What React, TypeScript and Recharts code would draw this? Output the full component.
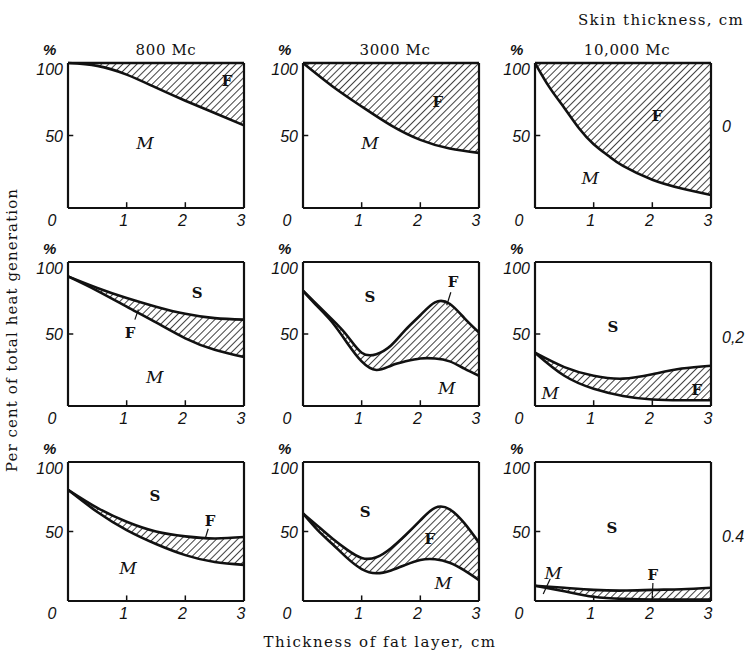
import React from "react";
import { ComposedChart, Area, Line, XAxis, YAxis, ReferenceLine, ReferenceDot } from "recharts";

const frequencies = ["800 Mc", "3000 Mc", "10,000 Mc"];
const skinThickness = ["0", "0,2", "0.4"];
const xTicks = [0, 1, 2, 3];
const yTicks = [50, 100];

const xHalf = [0, 0.5, 1, 1.5, 2, 2.5, 3];
const xQuarter = [0, 0.25, 0.5, 0.75, 1, 1.25, 1.5, 1.75, 2, 2.25, 2.5, 2.75, 3];
const xSteep = [0, 0.25, 0.5, 0.75, 1, 1.25, 1.5, 2, 2.5, 3];

// skin 0 cm -- fat reaches the 100 % line
const muscle800s0 = [100, 98, 92, 83, 74, 65.5, 57];
const fat800s0 = [100, 100, 100, 100, 100, 100, 100];
const muscle3000s0 = [100, 84, 70, 57, 47, 41, 38];
const fat3000s0 = [100, 100, 100, 100, 100, 100, 100];
const muscle10000s0 = [100, 83, 69, 55, 44, 36, 29, 19.5, 13.5, 9];
const fat10000s0 = [100, 100, 100, 100, 100, 100, 100, 100, 100, 100];

// skin 0.2 cm
const muscle800s2 = [90, 80, 69, 58, 47, 39, 34];
const fat800s2 = [90, 82, 75, 69, 64, 61, 60];
const muscle3000s2 = [80, 69, 58, 44, 31, 25, 28, 31, 33, 33, 31, 26, 21];
const fat3000s2 = [80, 70, 60, 49, 37, 36, 42, 53, 63, 72, 71, 61, 51];
const muscle10000s2 = [37, 21, 12, 7, 4.5, 4, 4];
const fat10000s2 = [37, 27, 21, 19, 22, 26, 28];

// skin 0.4 cm
const muscle800s4 = [80, 64, 51, 41, 33, 28, 26];
const fat800s4 = [80, 67, 57, 50, 46.5, 45, 46];
const muscle3000s4 = [63, 51, 41, 31, 23, 20, 22, 26, 29.5, 30, 27.5, 22, 15];
const fat3000s4 = [63, 54, 45, 37, 31, 31.5, 38, 47.5, 58, 67, 66, 56, 42];
const muscle10000s4 = [11, 7, 3, 1.5, 1, 1, 1];
const fat10000s4 = [11, 9.5, 8, 7.5, 8, 8.5, 9.5];

type Note = { text: string; x: number; y: number; italic?: boolean };
type Leader = [number, number, number, number];

const panels = [
  { x: xHalf, muscle: muscle800s0, fat: fat800s0,
    notes: [{ text: "F", x: 2.71, y: 88 }, { text: "M", x: 1.31, y: 45, italic: true }] as Note[], leaders: [] as Leader[] },
  { x: xHalf, muscle: muscle3000s0, fat: fat3000s0,
    notes: [{ text: "F", x: 2.3, y: 73 }, { text: "M", x: 1.14, y: 45, italic: true }] as Note[], leaders: [] as Leader[] },
  { x: xSteep, muscle: muscle10000s0, fat: fat10000s0,
    notes: [{ text: "F", x: 2.08, y: 64 }, { text: "M", x: 0.94, y: 21, italic: true }] as Note[], leaders: [] as Leader[] },
  { x: xHalf, muscle: muscle800s2, fat: fat800s2,
    notes: [{ text: "S", x: 2.2, y: 79 }, { text: "F", x: 1.06, y: 51 }, { text: "M", x: 1.48, y: 20, italic: true }] as Note[],
    leaders: [[1.14, 60, 1.2, 67]] as Leader[] },
  { x: xQuarter, muscle: muscle3000s2, fat: fat3000s2,
    notes: [{ text: "S", x: 1.14, y: 76 }, { text: "F", x: 2.56, y: 86 }, { text: "M", x: 2.45, y: 12.5, italic: true }] as Note[],
    leaders: [[2.52, 79, 2.45, 70]] as Leader[] },
  { x: xHalf, muscle: muscle10000s2, fat: fat10000s2,
    notes: [{ text: "S", x: 1.33, y: 55 }, { text: "F", x: 2.76, y: 11 }, { text: "M", x: 0.26, y: 9, italic: true }] as Note[],
    leaders: [] as Leader[] },
  { x: xHalf, muscle: muscle800s4, fat: fat800s4,
    notes: [{ text: "S", x: 1.48, y: 76 }, { text: "F", x: 2.42, y: 58 }, { text: "M", x: 1.02, y: 24, italic: true }] as Note[],
    leaders: [[2.39, 52, 2.34, 45]] as Leader[] },
  { x: xQuarter, muscle: muscle3000s4, fat: fat3000s4,
    notes: [{ text: "S", x: 1.06, y: 64 }, { text: "F", x: 2.16, y: 45 }, { text: "M", x: 2.39, y: 13, italic: true }] as Note[],
    leaders: [] as Leader[] },
  { x: xHalf, muscle: muscle10000s4, fat: fat10000s4,
    notes: [{ text: "S", x: 1.31, y: 52.5 }, { text: "F", x: 2.01, y: 19 }, { text: "M", x: 0.31, y: 20, italic: true }] as Note[],
    leaders: [[0.26, 16, 0.14, 5], [2.01, 13, 2.0, 4]] as Leader[] },
];

const colLeft = [68, 303, 535];
const rowTop = [63, 262, 462];
const rowHeight = [145, 144, 139];
const skinLabelY = [127, 338, 537];
const plotWidth = 176;
const axisW = 40;
const topPad = 25;
const xAxisH = 28;

const numFont = "'Liberation Sans', 'DejaVu Sans', sans-serif";
const serif = "'DejaVu Serif', 'Liberation Serif', serif";

const XTick = (props: any) => {
  const { x, y, payload } = props;
  const shift = payload.value === 0 ? -16 : -3;
  return (
    <text x={x + shift} y={y + 18} textAnchor="middle" fontSize={16} fontStyle="italic" fontFamily={numFont} fill="#111">
      {payload.value}
    </text>
  );
};

const YTick = (props: any) => {
  const { x, y, payload } = props;
  const dy = payload.value === 100 ? 12 : 6;
  return (
    <text x={x - 5} y={y + dy} textAnchor="end" fontSize={16} fontStyle="italic" fontFamily={numFont} fill="#111">
      {payload.value}
    </text>
  );
};

function Panel({ idx }: { idx: number }) {
  const p = panels[idx];
  const row = Math.floor(idx / 3);
  const col = idx % 3;
  const h = rowHeight[row];
  const data = p.x.map((x, i) => ({ x, muscle: p.muscle[i], fat: p.fat[i], band: [p.muscle[i], p.fat[i]] }));
  const pid = `hatch-${idx}`;
  return (
    <div style={{ position: "absolute", left: colLeft[col] - axisW, top: rowTop[row] - topPad }}>
      <ComposedChart width={axisW + plotWidth + 8} height={topPad + h + xAxisH} data={data}
        margin={{ top: topPad, right: 8, left: 0, bottom: 0 }}>
        <defs>
          <pattern id={pid} patternUnits="userSpaceOnUse" width={5} height={5} patternTransform="rotate(45)">
            <line x1={0} y1={0} x2={0} y2={5} stroke="#111" strokeWidth={1.6} />
          </pattern>
        </defs>
        <XAxis dataKey="x" type="number" domain={[0, 3]} ticks={xTicks} height={xAxisH}
          tickLine={false} tickSize={0} tickMargin={0} tick={<XTick />}
          axisLine={{ stroke: "#111", strokeWidth: 2.2 }} />
        <YAxis type="number" domain={[0, 100]} ticks={yTicks} width={axisW}
          tickLine={false} tickSize={0} tickMargin={0} tick={<YTick />}
          axisLine={{ stroke: "#111", strokeWidth: 2.2 }} />
        <Area dataKey="band" type="natural" stroke="none" fill={`url(#${pid})`} fillOpacity={1} isAnimationActive={false} />
        <Line dataKey="muscle" type="natural" stroke="#111" strokeWidth={2.6} dot={false} isAnimationActive={false} />
        <Line dataKey="fat" type="natural" stroke="#111" strokeWidth={2.6} dot={false} isAnimationActive={false} />
        <ReferenceLine y={100} stroke="#111" strokeWidth={2.2} />
        <ReferenceLine x={3} stroke="#111" strokeWidth={2.2} />
        <ReferenceLine segment={[{ x: 1, y: 0 }, { x: 1, y: 4 }]} stroke="#111" strokeWidth={1.5} />
        <ReferenceLine segment={[{ x: 2, y: 0 }, { x: 2, y: 4 }]} stroke="#111" strokeWidth={1.5} />
        <ReferenceLine segment={[{ x: 0, y: 50 }, { x: 0.09, y: 50 }]} stroke="#111" strokeWidth={1.5} />
        {p.leaders.map((l, i) => (
          <ReferenceLine key={`l${i}`} segment={[{ x: l[0], y: l[1] }, { x: l[2], y: l[3] }]} stroke="#111" strokeWidth={1.2} />
        ))}
        {p.notes.map((n, i) => (
          <ReferenceDot key={`n${i}`} x={n.x} y={n.y} r={0} stroke="none" fill="none"
            label={{
              value: n.text, position: "center", fill: "#111",
              fontSize: n.italic ? 17 : 15, fontStyle: n.italic ? "italic" : "normal",
              fontWeight: n.italic ? "normal" : "bold", fontFamily: serif,
            }} />
        ))}
      </ComposedChart>
    </div>
  );
}

const textBase: React.CSSProperties = { position: "absolute", color: "#111", whiteSpace: "nowrap", lineHeight: 1 };

export default function App() {
  return (
    <div style={{ position: "absolute", left: 0, top: 0, width: 748, height: 653, background: "#fff", fontFamily: serif }}>
      {panels.map((_, i) => <Panel key={i} idx={i} />)}
      {frequencies.map((f, c) => (
        <div key={f} style={{ ...textBase, left: colLeft[c] + plotWidth / 2 + (c === 0 ? 10 : 4), top: 50,
          transform: "translate(-50%, -50%)", fontSize: 15, letterSpacing: 0.6 }}>{f}</div>
      ))}
      {rowTop.map((t, r) => colLeft.map((l, c) => (
        <div key={`p${r}${c}`} style={{ ...textBase, left: l - 25, top: t - 21, fontSize: 15, fontWeight: "bold",
          fontStyle: "italic", fontFamily: numFont }}>%</div>
      )))}
      <div style={{ ...textBase, left: 578, top: 13, fontSize: 15, letterSpacing: 1.3 }}>Skin thickness, cm</div>
      {skinThickness.map((s, r) => (
        <div key={s} style={{ ...textBase, left: 722, top: skinLabelY[r] - 8,
          fontSize: 16, fontStyle: "italic", fontFamily: numFont }}>{s}</div>
      ))}
      <div style={{ ...textBase, left: 12, top: 330, transform: "translate(-50%, -50%) rotate(-90deg)", fontSize: 15,
        letterSpacing: 1.1 }}>
        Per cent of total heat generation
      </div>
      <div style={{ ...textBase, left: 380, top: 642, transform: "translate(-50%, -50%)", fontSize: 15, letterSpacing: 1.5 }}>
        Thickness of fat layer, cm
      </div>
    </div>
  );
}
